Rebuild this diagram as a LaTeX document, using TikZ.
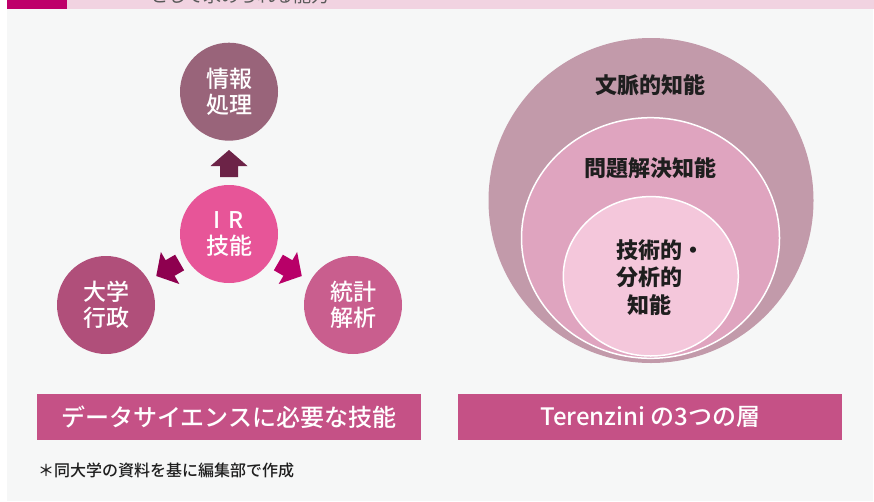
\documentclass[tikz,border=0pt]{standalone}
\usepackage{fontspec}
\setmainfont{Noto Sans CJK JP}
\newfontfamily\jpmed{Noto Sans CJK JP Medium}
\usetikzlibrary{calc}
\definecolor{bggray}{HTML}{F6F7F7}
\definecolor{bandpink}{HTML}{F1D3E1}
\definecolor{magblock}{HTML}{BE006A}
\definecolor{cinfo}{HTML}{99647A}
\definecolor{cir}{HTML}{E75598}
\definecolor{cadmin}{HTML}{B04F7A}
\definecolor{cstat}{HTML}{C95E8E}
\definecolor{arrup}{HTML}{6C2347}
\definecolor{arrleft}{HTML}{8E004F}
\definecolor{arrright}{HTML}{B80068}
\definecolor{couter}{HTML}{C29AAA}
\definecolor{cmid}{HTML}{DFA4BF}
\definecolor{cinner}{HTML}{F4C7DB}
\definecolor{cbox}{HTML}{C55186}
\definecolor{ink}{HTML}{1E1E1E}
\tikzset{
  skill/.style={circle, minimum size=98pt, inner sep=0pt, text=white, align=center,
    font=\jpmed\fontsize{23}{26}\selectfont},
  caption box/.style={minimum width=384pt, minimum height=46pt, inner sep=0pt, fill=cbox,
    text=white, font=\jpmed\fontsize{24}{26}\selectfont},
  layer label/.style={text=ink, font=\fontsize{22}{27.5}\selectfont\bfseries, inner sep=0pt}
}
\newcommand{\skillarrow}[2]{%
  \fill[#2] ($(ir)+(#1:57)+(#1+90:9)$) -- ($(ir)+(#1:68)+(#1+90:9)$)
    -- ($(ir)+(#1:68)+(#1+90:18.5)$) -- ($(ir)+(#1:84)$)
    -- ($(ir)+(#1:68)+(#1-90:18.5)$) -- ($(ir)+(#1:68)+(#1-90:9)$)
    -- ($(ir)+(#1:57)+(#1-90:9)$) -- cycle;}
\begin{document}
\begin{tikzpicture}[x=1pt, y=-1pt]
\useasboundingbox (0,0) rectangle (874,501);
\fill[white] (0,0) rectangle (874,501);
\fill[bggray] (7,9) rectangle (873,501);
\fill[bandpink] (67,0) rectangle (874,9);
\fill[magblock] (7,0) rectangle (67,9);
\begin{scope}
  \clip (67,0) rectangle (874,9);
  \node[anchor=base west, inner sep=0pt, text=black!65, font=\fontsize{18}{18}\selectfont]
    (bandtext) at (150,2) {として求められる能力};
\end{scope}

% left diagram
\node[skill, fill=cinfo] (info) at (229,91.7) {情報\\処理};
\node[skill, fill=cir] (ir) at (229,234) {I\kern8pt R\\技能};
\node[skill, fill=cadmin] (admin) at (106,305) {大学\\行政};
\node[skill, fill=cstat] (stat) at (353,305) {統計\\解析};
\skillarrow{-90}{arrup}
\skillarrow{150}{arrleft}
\skillarrow{30}{arrright}

% right diagram
\fill[couter] (651,200.5) circle[radius=162.5];
\draw[white, line width=1.5pt, fill=cmid] (650.5,238) ellipse[x radius=129, y radius=120.3];
\draw[white, line width=1.5pt, fill=cinner] (650.8,276.3) ellipse[x radius=87.5, y radius=79.7];
\node[layer label] (context) at (650,85) {文脈的知能};
\node[layer label] (problem) at (650,168) {問題解決知能};
\node[layer label, anchor=west, align=left] (tech) at (616,277.5) {技術的・\\分析的\\\hspace{0.5em}知能};

% captions
\node[caption box] (capleft) at (228.8,417) {データサイエンスに必要な技能};
\node[caption box] (capright) at (650.4,417) {Terenzini の3つの層};
\node[anchor=west, inner sep=0pt, text=ink, font=\jpmed\fontsize{16}{18}\selectfont] (note) at (38,470)
  {＊同大学の資料を基に編集部で作成};
\end{tikzpicture}
\end{document}
